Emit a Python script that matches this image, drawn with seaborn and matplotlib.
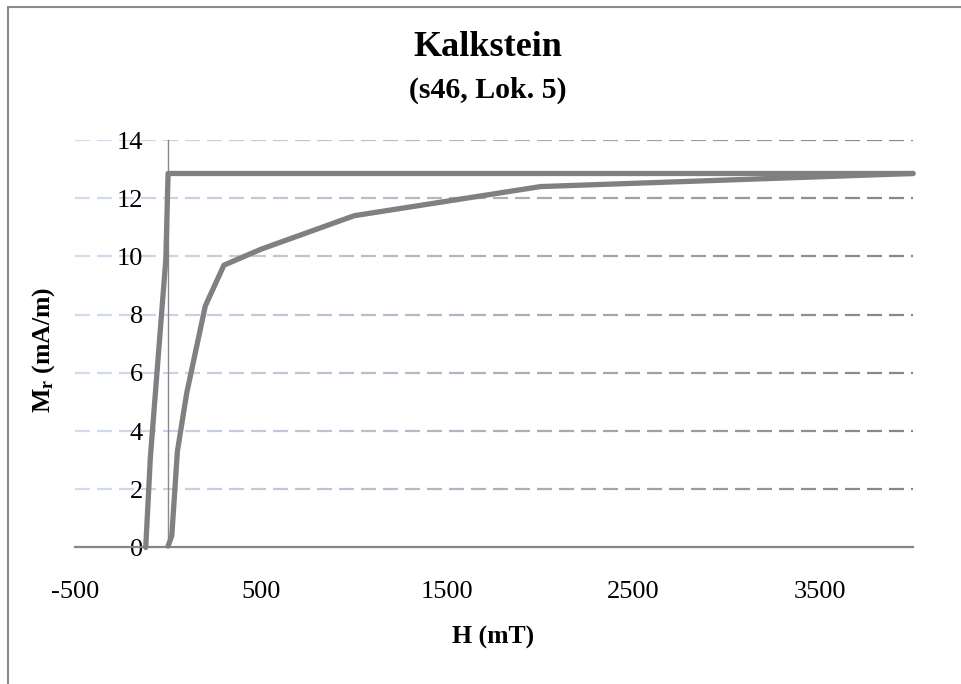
import numpy as np
import matplotlib
matplotlib.use("Agg")
import matplotlib.pyplot as plt
import seaborn as sns
from matplotlib.collections import LineCollection
from matplotlib.lines import Line2D
from matplotlib.colors import to_rgb

# ---- chart data -------------------------------------------------------
title_main = "Kalkstein"
title_sub = "(s46, Lok. 5)"
x_label = "H (mT)"
y_label = r"$\mathbf{M_r}$ (mA/m)"

# first curve (steep rise left of the origin, then flat at saturation)
field_a = [-120, -95, -45, -12, 0, 4000]
mr_a = [0.0, 3.1, 7.2, 9.9, 12.85, 12.85]

# second curve (acquisition curve)
field_b = [0, 20, 50, 100, 150, 200, 300, 500, 1000, 2000, 4000]
mr_b = [0.05, 0.4, 3.3, 5.3, 6.8, 8.3, 9.7, 10.25, 11.4, 12.4, 12.85]

x_ticks = [-500, 500, 1500, 2500, 3500]
y_ticks = [0, 2, 4, 6, 8, 10, 12, 14]

# ---- style ------------------------------------------------------------
sns.set_theme(style="white")
plt.rcParams["font.family"] = ["Liberation Serif", "DejaVu Serif"]
plt.rcParams["mathtext.fontset"] = "custom"
plt.rcParams["mathtext.rm"] = "Liberation Serif"
plt.rcParams["mathtext.bf"] = "Liberation Serif:bold"
plt.rcParams["text.color"] = "black"

line_color = "#808080"

fig = plt.figure(figsize=(9.61, 6.84), dpi=100)
ax = fig.add_axes([0.078, 0.1996, 0.872, 0.5957])
ax.set_xlim(-500, 4000)
ax.set_ylim(0, 14)

# dashed horizontal gridlines that fade from pale blue to grey
c_left = np.array(to_rgb("#d2ddf3"))
c_right = np.array(to_rgb("#858585"))
dash, gap = 15 / 838, 7 / 838
segs, cols = [], []
for yv in y_ticks[1:]:
    yf = yv / 14
    x0 = 0.0
    while x0 < 1.0:
        x1 = min(x0 + dash, 1.0)
        segs.append([(x0, yf), (x1, yf)])
        t = (x0 + x1) / 2
        cols.append(tuple(c_left * (1 - t) + c_right * t))
        x0 += dash + gap
lc = LineCollection(segs, colors=cols, linewidths=1.6, transform=ax.transAxes, zorder=0.5)
ax.add_collection(lc)

# curves
sns.lineplot(x=field_a, y=mr_a, sort=False, estimator=None, color=line_color,
             linewidth=3.8, ax=ax, zorder=3, clip_on=False, solid_capstyle="round")
sns.lineplot(x=field_b, y=mr_b, sort=False, estimator=None, color=line_color,
             linewidth=3.8, ax=ax, zorder=3, clip_on=False, solid_capstyle="round")

# axes lines: x-axis at M=0, y-axis crossing at H=0
for s in ["top", "right"]:
    ax.spines[s].set_visible(False)
ax.spines["left"].set_position(("data", 0))
ax.spines["left"].set_color("#8a8a8a")
ax.spines["left"].set_linewidth(1.0)
ax.spines["bottom"].set_color("#868686")
ax.spines["bottom"].set_linewidth(1.6)
ax.spines["left"].set_zorder(1)

ax.set_xticks(x_ticks)
ax.set_yticks(y_ticks)
ax.set_xticklabels([str(v) for v in x_ticks])
ax.set_yticklabels([str(v) for v in y_ticks])
ax.tick_params(axis="both", length=0, labelsize=19, colors="black")
ax.tick_params(axis="y", pad=18)
ax.tick_params(axis="x", pad=24)
ax.set_xlabel("")
ax.set_ylabel("")

# titles and axis labels
fig.text(0.508, 0.931, title_main, ha="center", va="center",
         fontsize=26, fontweight="bold", color="black")
fig.text(0.508, 0.868, title_sub, ha="center", va="center",
         fontsize=21.5, fontweight="bold", color="black")
fig.text(0.513, 0.068, x_label, ha="center", va="center",
         fontsize=18.5, fontweight="bold", color="black")
fig.text(0.045, 0.488, y_label, ha="center", va="center", rotation=90,
         fontsize=18.5, fontweight="bold", color="black")

# outer chart frame (top and left edges)
fig.add_artist(Line2D([7.5 / 961, 1.0], [1 - 6.5 / 684, 1 - 6.5 / 684],
                      color="#8a8a8a", linewidth=1.5, transform=fig.transFigure))
fig.add_artist(Line2D([7.5 / 961, 7.5 / 961], [0.0, 1 - 6.5 / 684],
                      color="#8a8a8a", linewidth=1.5, transform=fig.transFigure))

fig.savefig("out.png", dpi=100)
